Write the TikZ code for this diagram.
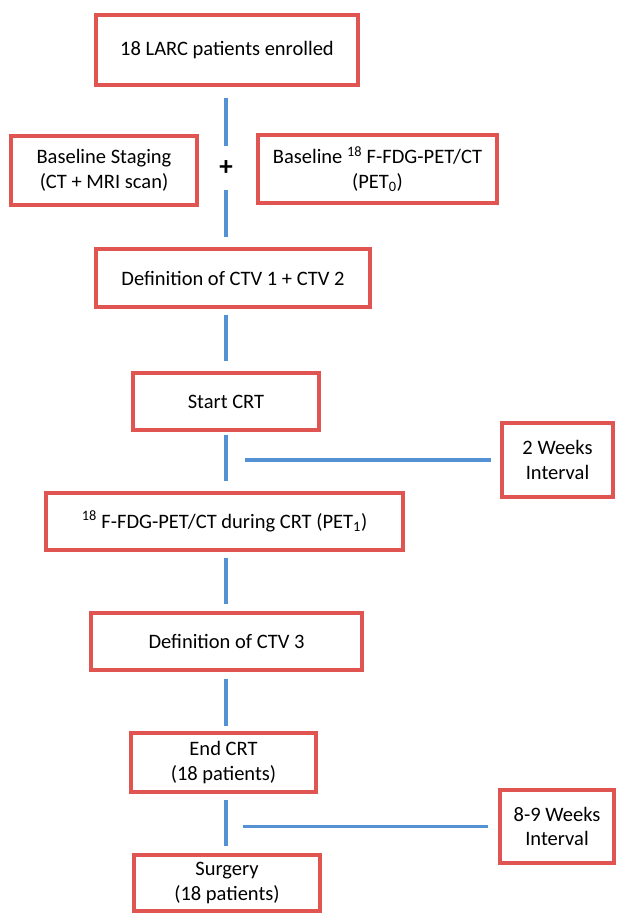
\documentclass[tikz,border=0pt]{standalone}
\usepackage{fontspec}
\setmainfont{Carlito}

\definecolor{boxred}{RGB}{224,84,82}
\definecolor{lineblue}{RGB}{84,146,212}

\begin{document}
\begin{tikzpicture}[
    x=1pt, y=-1pt,
    every node/.style = {
      font=\fontsize{20.5}{24.5}\selectfont,
      align=center,
      inner sep=0pt
    },
    box/.style = {
      shape=rectangle,
      draw=boxred,
      line width=3.3pt,
      fill=white
    },
    link/.style = {
      draw=lineblue,
      line width=3.6pt
    }
  ]
    \useasboundingbox (0,0) rectangle (616,913);

    % Top node and baseline examinations
    \node[box, minimum width=262pt, minimum height=70pt] (enrolled) at (227,50) {18 LARC patients enrolled};
    \node[box, minimum width=186pt, minimum height=69pt] (staging) at (104,170.5) {Baseline Staging\\(CT + MRI scan)};
    \node[minimum height=44pt, font=\fontsize{27}{30}\selectfont\bfseries] (plus) at (226,168) {+};
    \node[box, minimum width=239pt, minimum height=68pt] (petnull) at (377.5,169) {Baseline \textsuperscript{18} F-FDG-PET/CT\\(PET\textsubscript{0})};

    % Treatment column
    \node[box, minimum width=274pt, minimum height=58pt] (ctvab) at (233,278) {Definition of CTV 1 + CTV 2};
    \node[box, minimum width=186pt, minimum height=57pt] (start) at (226,401.5) {Start CRT};
    \node[box, minimum width=357pt, minimum height=57pt] (petone) at (224.5,521.5) {\textsuperscript{18} F-FDG-PET/CT during CRT (PET\textsubscript{1})};
    \node[box, minimum width=271pt, minimum height=57pt] (ctvc) at (226.5,641.5) {Definition of CTV 3};
    \node[box, minimum width=185pt, minimum height=59pt] (endcrt) at (223.5,762.5) {End CRT\\(18 patients)};
    \node[box, minimum width=186pt, minimum height=56pt] (surgery) at (227,883) {Surgery\\(18 patients)};

    % Interval boxes on the right
    \node[box, minimum width=111pt, minimum height=74pt] (twoweeks) at (557.5,460) {2 Weeks\\Interval};
    \node[box, minimum width=114pt, minimum height=73pt] (eightweeks) at (557,826.5) {8-9 Weeks\\Interval};

    % Lines
    \draw[link, shorten <=11pt] (plus |- enrolled.south) -- (plus.north);
    \draw[link, shorten >=10pt] (plus.south) -- (plus |- ctvab.north);
    \draw[link, shorten <=6pt, shorten >=10pt] (start |- ctvab.south) -- (start.north);
    \draw[link, shorten <=3pt, shorten >=10pt] (start.south) -- (start |- petone.north);
    \draw[link, shorten <=6pt, shorten >=7pt] (start |- petone.south) -- (start |- ctvc.north);
    \draw[link, shorten <=7pt, shorten >=5pt] (start |- ctvc.south) -- (start |- endcrt.north);
    \draw[link, shorten <=6pt, shorten >=7pt] (start |- endcrt.south) -- (start |- surgery.north);
    \draw[link, shorten <=19pt, shorten >=9pt] (start |- twoweeks.west) -- (twoweeks.west);
    \draw[link, shorten <=17pt, shorten >=10pt] (start |- eightweeks.west) -- (eightweeks.west);

  \end{tikzpicture}
\end{document}
